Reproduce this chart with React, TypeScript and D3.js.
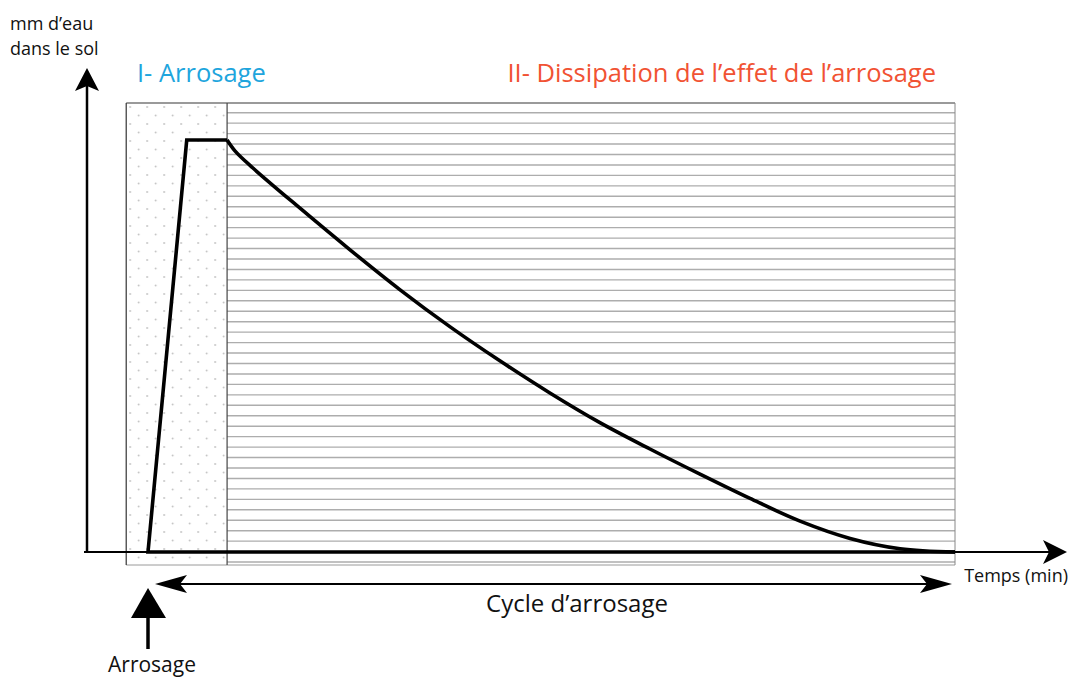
import React from "react";
import * as d3 from "d3";

// ---- data (time in min from start of watering, water in mm) ----
const riseTimes = [0, 4.8, 9.8];
const riseValues = [0, 100, 100];
const decayTimes = [9.8, 10.8, 13.0, 18.8, 25.0, 31.2, 37.4, 43.6, 49.8, 56.0, 62.2, 68.4, 74.6, 80.8, 87.0, 93.2, 100];
const decayValues = [100, 97.3, 93.2, 83.5, 73.4, 63.7, 54.7, 46.4, 38.6, 31.4, 25.0, 18.9, 13.0, 7.5, 3.3, 0.8, 0];
const phaseBounds = [-2.7, 9.8, 100];
const phaseLabels = ["I- Arrosage", "II- Dissipation de l\u2019effet de l\u2019arrosage"];
const phaseColors = ["#1ea5dd", "#f15233"];
const yLabelLines = ["mm d\u2019eau", "dans le sol"];
const xLabel = "Temps (min)";
const cycleLabel = "Cycle d\u2019arrosage";
const eventLabel = "Arrosage";

const W = 1070, H = 680;

export default function App() {
  const x = d3.scaleLinear().domain([0, 100]).range([148, 955]);
  const y = d3.scaleLinear().domain([0, 100]).range([552, 140]);

  const boxTop = 103, boxBottom = 565;
  const x0 = x(phaseBounds[0]), x1 = x(phaseBounds[1]), x2 = x(phaseBounds[2]);
  const stripes = d3.range(112.7, boxBottom, 10.45);

  const lineLin = d3.line<[number, number]>().x(d => x(d[0])).y(d => y(d[1]));
  const lineSmooth = d3.line<[number, number]>().x(d => x(d[0])).y(d => y(d[1])).curve(d3.curveCatmullRom.alpha(0.5));
  const riseData: [number, number][] = [[100, 0], ...riseTimes.map((t, i) => [t, riseValues[i]] as [number, number])];
  const decayData: [number, number][] = decayTimes.map((t, i) => [t, decayValues[i]]);

  const axX = 87, axY = y(0);
  const font = "'Open Sans', 'Noto Sans', sans-serif";

  return (
    <svg width={W} height={H} style={{ position: "absolute", left: 0, top: 0, background: "#fff" }}>
      <defs>
        <pattern id="dots" patternUnits="userSpaceOnUse" width={17} height={17} x={x0} y={boxTop}>
          <circle cx={4} cy={4} r={0.9} fill="#bdbdbd" />
          <circle cx={12.5} cy={12.5} r={0.9} fill="#bdbdbd" />
        </pattern>
      </defs>

      {/* phase I dotted */}
      <rect x={x0} y={boxTop} width={x1 - x0} height={boxBottom - boxTop} fill="url(#dots)" />
      {/* phase II stripes */}
      {stripes.map((s, i) => (
        <line key={i} x1={x1} x2={x2} y1={s} y2={s} stroke="#adadad" strokeWidth={1.4} />
      ))}
      {/* box borders */}
      <line x1={x0} x2={x2} y1={boxTop} y2={boxTop} stroke="#9a9a9a" strokeWidth={2} />
      <line x1={x0} x2={x2} y1={boxBottom} y2={boxBottom} stroke="#9a9a9a" strokeWidth={1} />
      <line x1={x0} x2={x0} y1={boxTop} y2={boxBottom} stroke="#333" strokeWidth={1.2} />
      <line x1={x1} x2={x1} y1={boxTop} y2={boxBottom} stroke="#444" strokeWidth={1.2} />
      <line x1={x2} x2={x2} y1={boxTop} y2={boxBottom} stroke="#888" strokeWidth={1} />

      {/* axes */}
      <line x1={axX} x2={axX} y1={axY + 1} y2={84} stroke="#000" strokeWidth={2.5} />
      <path d={`M${axX},68 L${axX + 12},91 L${axX},86 L${axX - 12},91 Z`} fill="#000" />
      <line x1={84} x2={1050} y1={axY} y2={axY} stroke="#000" strokeWidth={2} />
      <path d={`M1067,${axY} L1043,${axY - 12} L1049,${axY} L1043,${axY + 12} Z`} fill="#000" />

      {/* curve */}
      <path d={lineLin(riseData) || ""} fill="none" stroke="#000" strokeWidth={3.6} strokeLinejoin="miter" />
      <path d={lineSmooth(decayData) || ""} fill="none" stroke="#000" strokeWidth={3.6} strokeLinejoin="round" />

      {/* cycle double arrow */}
      <line x1={170} x2={940} y1={584} y2={584} stroke="#000" strokeWidth={2.2} />
      <path d={`M155,584 L187,575 L180,584 L187,593 Z`} fill="#000" />
      <path d={`M952,584 L920,575 L927,584 L920,593 Z`} fill="#000" />
      <text x={577} y={612} textAnchor="middle" fontFamily={font} fontSize={24} fill="#111">{cycleLabel}</text>

      {/* watering event arrow */}
      <line x1={148} x2={148} y1={615} y2={649} stroke="#000" strokeWidth={3.5} />
      <path d={`M148,588 L166,618 L131,618 Z`} fill="#000" />
      <text x={152} y={672} textAnchor="middle" fontFamily={font} fontSize={21} fill="#111">{eventLabel}</text>

      {/* axis labels */}
      {yLabelLines.map((l, i) => (
        <text key={i} x={10} y={30 + i * 25} fontFamily={font} fontSize={18} fill="#111">{l}</text>
      ))}
      <text x={1068} y={582} textAnchor="end" fontFamily={font} fontSize={18} fill="#111">{xLabel}</text>

      {/* phase titles */}
      <text x={137} y={82} fontFamily={font} fontSize={25.5} fill={phaseColors[0]}>{phaseLabels[0]}</text>
      <text x={936} y={82} textAnchor="end" fontFamily={font} fontSize={25.5} fill={phaseColors[1]}>{phaseLabels[1]}</text>
    </svg>
  );
}
